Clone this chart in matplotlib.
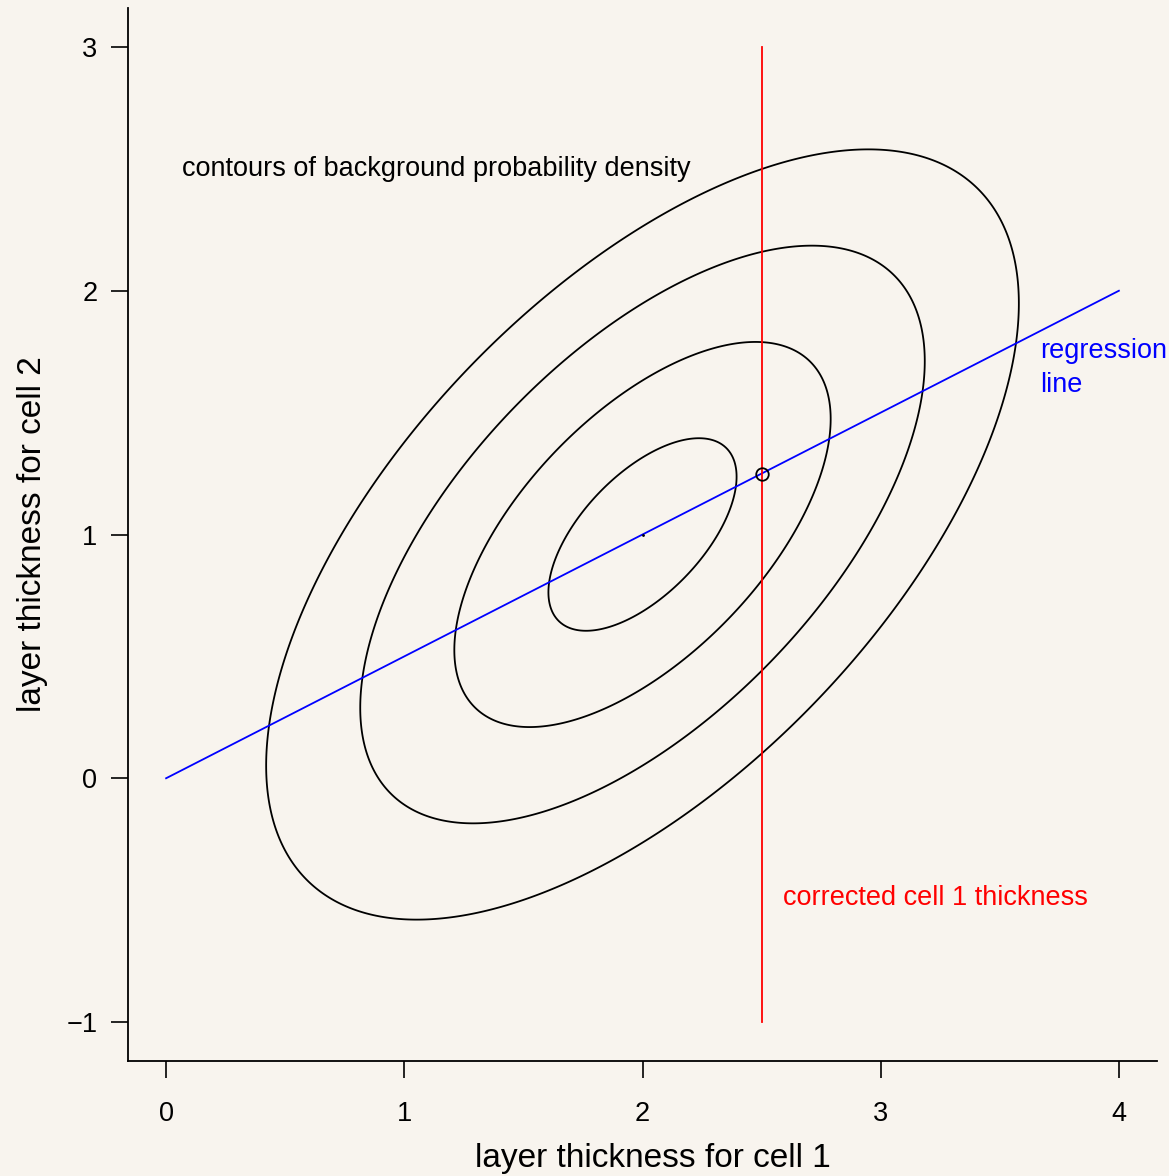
import numpy as np
import matplotlib.pyplot as plt

plt.rcParams['font.family'] = ['Liberation Sans', 'DejaVu Sans']

# background bivariate normal: mean, std devs, correlation, contour levels (Mahalanobis radius)
mean = [2.0, 1.0]
sd = [0.79, 0.79]
rho = 0.6
levels = [0.5, 1.0, 1.5, 2.0]

# regression line end points and the corrected cell 1 value
reg_x = [0, 4]
reg_y = [0, 2]
corrected_x = 2.5
corrected_y = [-1, 3]

xticks = [0, 1, 2, 3, 4]
yticks = [-1, 0, 1, 2, 3]

bg = '#f8f4ee'
fig = plt.figure(figsize=(11.69, 11.76), dpi=100, facecolor=bg)
ax = fig.add_axes([128 / 1169, 1 - 1061 / 1176, 1029 / 1169, 1053 / 1176])
ax.set_facecolor(bg)

cov = np.array([[sd[0]**2, rho * sd[0] * sd[1]], [rho * sd[0] * sd[1], sd[1]**2]])
gx, gy = np.meshgrid(np.linspace(-0.2, 4.2, 600), np.linspace(-1.2, 3.2, 600))
inv = np.linalg.inv(cov)
dx, dy = gx - mean[0], gy - mean[1]
q = np.sqrt(inv[0, 0] * dx**2 + 2 * inv[0, 1] * dx * dy + inv[1, 1] * dy**2)
ax.contour(gx, gy, q, levels=levels, colors='black', linewidths=1.3)

ax.plot(reg_x, reg_y, color='blue', lw=1.3)
ax.plot([corrected_x, corrected_x], corrected_y, color='red', lw=1.3)
slope = (reg_y[1] - reg_y[0]) / (reg_x[1] - reg_x[0])
ax.plot([corrected_x], [slope * corrected_x], 'o', mfc='none', mec='black', ms=9, mew=1.3)
ax.plot([mean[0]], [mean[1]], '.', color='black', ms=2)

fs = 19.5
ax.text(0.067, 2.5, 'contours of background probability density', fontsize=fs,
        ha='left', va='center')
ax.text(3.67, 1.685, 'regression\nline', fontsize=fs, color='blue', ha='left',
        va='center', linespacing=1.4)
ax.text(2.588, -0.49, 'corrected cell 1 thickness', fontsize=fs, color='red',
        ha='left', va='center')

ax.set_xlim(-0.16, 4.16)
ax.set_ylim(-1.16, 3.16)
ax.set_xticks(xticks)
ax.set_yticks(yticks)
ax.set_yticklabels(['\u22121', '0', '1', '2', '3'])
ax.tick_params(direction='out', length=12, width=1.2, labelsize=fs)
ax.tick_params(axis='x', pad=16.5)
ax.tick_params(axis='y', pad=10)
ax.spines['top'].set_visible(False)
ax.spines['right'].set_visible(False)
for s in ('left', 'bottom'):
    ax.spines[s].set_linewidth(1.3)
ax.set_xlabel('layer thickness for cell 1', fontsize=24)
ax.set_ylabel('layer thickness for cell 2', fontsize=24)
ax.xaxis.set_label_coords(0.51, -0.078)
ax.yaxis.set_label_coords(-0.078, 0.5)

fig.savefig('out.png', dpi=100, facecolor=bg)
